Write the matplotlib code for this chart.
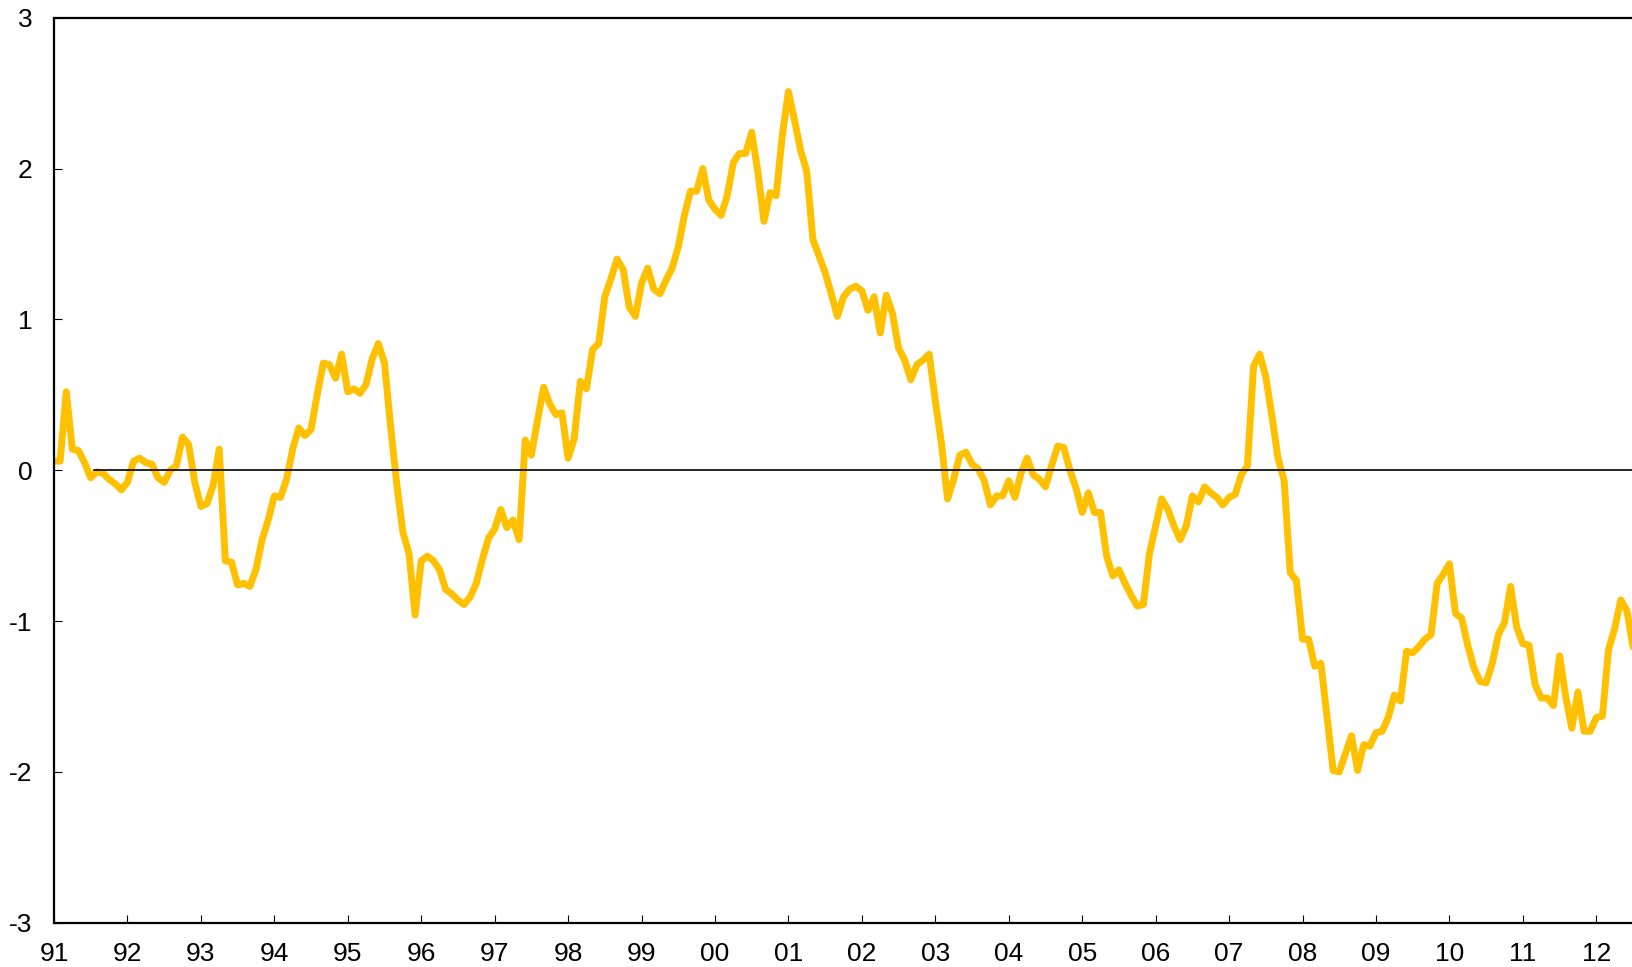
import numpy as np
import matplotlib
matplotlib.use("Agg")
import matplotlib.pyplot as plt

# Monthly series, Jan 1991 .. Jul 2012
start_year = 1991
values = [
    # 1991-1993 (Jan 91 .. Apr 93)
    0.06, 0.06, 0.52, 0.14, 0.13, 0.05, -0.05, -0.01, -0.02, -0.06, -0.09, -0.13,
    -0.08, 0.06, 0.08, 0.05, 0.04, -0.05, -0.08, 0.00, 0.03, 0.22, 0.17, -0.08,
    -0.24, -0.22, -0.10, 0.14,
    # May 93 .. Jul 95
    -0.60, -0.61, -0.76, -0.75, -0.77, -0.66, -0.46, -0.33, -0.17, -0.18, -0.06, 0.14,
    0.28, 0.23, 0.27, 0.50, 0.71, 0.70, 0.61, 0.77, 0.52, 0.54, 0.51, 0.57,
    0.74, 0.84, 0.71,
    # Aug 95 .. May 97
    0.29, -0.09, -0.41, -0.55, -0.96, -0.60, -0.57, -0.60, -0.66, -0.79, -0.82, -0.86,
    -0.89, -0.84, -0.75, -0.59, -0.45, -0.39, -0.26, -0.38, -0.33, -0.46,
    # Jun 97 .. Nov 99
    0.20, 0.10, 0.33, 0.55, 0.44, 0.37, 0.38, 0.08, 0.21, 0.59, 0.54, 0.80,
    0.84, 1.15, 1.27, 1.40, 1.33, 1.08, 1.02, 1.24, 1.34, 1.20, 1.17, 1.26,
    1.34, 1.48, 1.69, 1.85, 1.85, 2.00,
    # Dec 99 .. Jun 02
    1.79, 1.73, 1.69, 1.82, 2.04, 2.10, 2.10, 2.24, 1.98, 1.65, 1.84, 1.82,
    2.22, 2.51, 2.32, 2.12, 1.98, 1.53, 1.42, 1.31, 1.17, 1.02, 1.15, 1.20,
    1.22, 1.19, 1.06, 1.15, 0.91, 1.16, 1.04,
    # Jul 02 .. Jan 05
    0.81, 0.73, 0.60, 0.70, 0.73, 0.77, 0.46, 0.18, -0.19, -0.06, 0.10, 0.12,
    0.04, 0.01, -0.07, -0.23, -0.17, -0.17, -0.07, -0.18, -0.02, 0.08, -0.03, -0.06,
    -0.11, 0.03, 0.16, 0.15, 0.00, -0.12, -0.28,
    # Feb 05 .. Oct 07
    -0.15, -0.28, -0.28, -0.57, -0.70, -0.66, -0.75, -0.83, -0.90, -0.89, -0.55, -0.37,
    -0.19, -0.26, -0.37, -0.46, -0.37, -0.17, -0.21, -0.11, -0.15, -0.18, -0.23, -0.18,
    -0.16, -0.03, 0.03, 0.69, 0.77, 0.62, 0.36, 0.08, -0.07,
    # Nov 07 .. Jul 12
    -0.68, -0.73, -1.12, -1.12, -1.30, -1.28, -1.63, -1.99, -2.00, -1.88, -1.76, -1.99,
    -1.82, -1.83, -1.74, -1.73, -1.64, -1.49, -1.53, -1.20, -1.21, -1.17, -1.12, -1.09,
    -0.75, -0.69, -0.62, -0.95, -0.98, -1.16, -1.31, -1.40, -1.41, -1.28, -1.09, -1.01,
    -0.77, -1.04, -1.15, -1.16, -1.42, -1.51, -1.51, -1.56, -1.23, -1.50, -1.71, -1.47,
    -1.73, -1.73, -1.64, -1.63, -1.19, -1.05, -0.86, -0.93, -1.17,
]
years = list(range(1991, 2013))
year_labels = [f"{y % 100:02d}" for y in years]
y_ticks = [-3, -2, -1, 0, 1, 2, 3]
y_labels = [str(v) for v in y_ticks]

x = start_year + np.arange(len(values)) / 12.0

plt.rcParams['font.family'] = ['Liberation Sans', 'DejaVu Sans']

W, H = 1633, 967
fig = plt.figure(figsize=(W / 100, H / 100), dpi=100)
left = 54 / W
bottom = 1 - 922.8 / H
top = 1 - 17.7 / H
ax = fig.add_axes([left, bottom, 1 - left, top - bottom])

ax.plot(x, values, color='#FFC000', lw=5, solid_joinstyle='round',
        solid_capstyle='round', zorder=2)
ax.plot([1991.54, 2013.0], [0, 0], color='black', lw=1.2, zorder=3)

ax.set_xlim(1991, 2012.5)
ax.set_ylim(-3, 3)
ax.set_xticks(years)
ax.set_xticklabels(year_labels)
ax.set_yticks(y_ticks)
ax.set_yticklabels(y_labels)

ax.tick_params(axis='x', direction='in', length=5.5, width=0.8, pad=13.5,
               labelsize=19, colors='black')
ax.tick_params(axis='y', direction='in', length=5.5, width=0.8, pad=15.5,
               labelsize=19, colors='black')

for s in ['left', 'top', 'bottom']:
    ax.spines[s].set_linewidth(1.6)
    ax.spines[s].set_color('black')
ax.spines['right'].set_visible(False)

fig.savefig('out.png', dpi=100)
